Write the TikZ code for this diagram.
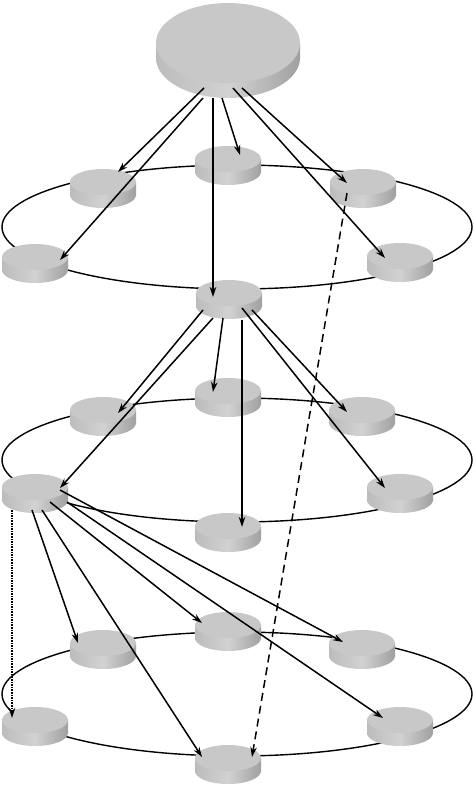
\documentclass[tikz,border=0pt]{standalone}
\usetikzlibrary{arrows.meta,shapes.geometric}
\definecolor{topgray}{HTML}{C8C8C8}
\definecolor{sideL}{HTML}{BCBCBC}
\definecolor{sideM}{HTML}{D2D2D2}
\definecolor{sideR}{HTML}{A0A0A0}
\tikzset{
  pics/disc/.style n args={3}{code={
    \shade[left color=sideL, right color=sideR, middle color=sideM] (-#1,0) rectangle (#1,#3);
    \shade[left color=sideL, right color=sideR, middle color=sideM] (0,#3) ellipse [x radius=#1, y radius=#2];
    \node[ellipse, fill=topgray, minimum width={2*#1}, minimum height={2*#2}, inner sep=0pt] (-t) at (0,0) {};
  }},
  ring/.style={draw, ellipse, line width=1.4pt, minimum width=470, minimum height=124, inner sep=0pt},
  arr/.style={line width=1.5pt, -{Stealth[length=10pt,width=6.5pt]}},
  dotarr/.style={line width=1.6pt, densely dotted, -{Stealth[length=10pt,width=6.5pt]}},
  dasharr/.style={line width=1.5pt, dash pattern=on 8pt off 5pt, -{Stealth[length=10pt,width=6.5pt]}}
}
\begin{document}
\begin{tikzpicture}[x=1pt,y=-1pt]
\useasboundingbox (0,0) rectangle (474,787);
% rings
\node[ring] (ring1) at (237,227) {};
\node[ring] (ring2) at (237,460) {};
\node[ring] (ring3) at (237,694) {};
% discs
\pic (S) at (228,43) {disc={72}{40}{15}};
\pic (T1) at (228,159) {disc={33}{13}{13}};
\pic (UL1) at (103,182) {disc={33}{13}{13}};
\pic (UR1) at (363,182) {disc={33}{13}{13}};
\pic (L1) at (35,257) {disc={33}{13}{13}};
\pic (R1) at (400,256) {disc={33}{13}{13}};
\pic (B1) at (229,293) {disc={33}{13}{13}};
\pic (T2) at (228,391) {disc={33}{13}{13}};
\pic (UL2) at (103,410) {disc={33}{13}{13}};
\pic (UR2) at (362,410) {disc={33}{13}{13}};
\pic (L2) at (35,487) {disc={33}{13}{13}};
\pic (R2) at (400,487) {disc={33}{13}{13}};
\pic (B2) at (228,526) {disc={33}{13}{13}};
\pic (T3) at (228,625) {disc={33}{13}{13}};
\pic (UL3) at (103,643) {disc={33}{13}{13}};
\pic (UR3) at (362,643) {disc={33}{13}{13}};
\pic (L3) at (35,720) {disc={33}{13}{13}};
\pic (R3) at (400,720) {disc={33}{13}{13}};
\pic (B3) at (228,758) {disc={33}{13}{13}};
% level 0 -> level 1
\draw[arr] ([shift={(-24,45)}]S-t.center) -- ([shift={(15,-10)}]UL1-t.center);
\draw[arr] ([shift={(-25,55)}]S-t.center) -- ([shift={(25,3)}]L1-t.center);
\draw[arr] ([shift={(-15,55)}]S-t.center) -- ([shift={(-16,4)}]B1-t.center);
\draw[arr] ([shift={(-6,55)}]S-t.center) -- ([shift={(12,-4)}]T1-t.center);
\draw[arr] ([shift={(14,45)}]S-t.center) -- ([shift={(-16,1)}]UR1-t.center);
\draw[arr] ([shift={(5,45)}]S-t.center) -- ([shift={(-15,2)}]R1-t.center);
% level 1 -> level 2
\draw[arr] ([shift={(-26,17)}]B1-t.center) -- ([shift={(15,3)}]UL2-t.center);
\draw[arr] ([shift={(-16,25)}]B1-t.center) -- ([shift={(25,1)}]L2-t.center);
\draw[arr] ([shift={(-6,25)}]B1-t.center) -- ([shift={(-15,1)}]T2-t.center);
\draw[arr] ([shift={(13,27)}]B1-t.center) -- ([shift={(14,1)}]B2-t.center);
\draw[arr] ([shift={(23,17)}]B1-t.center) -- ([shift={(-15,2)}]UR2-t.center);
\draw[arr] ([shift={(13,15)}]B1-t.center) -- ([shift={(-15,1)}]R2-t.center);
% level 2 -> level 3
\draw[dotarr] ([shift={(-23,23)}]L2-t.center) -- ([shift={(-23,-2)}]L3-t.center);
\draw[arr] ([shift={(-3,23)}]L2-t.center) -- ([shift={(-25,0)}]UL3-t.center);
\draw[arr] ([shift={(7,23)}]L2-t.center) -- ([shift={(-26,-1)}]B3-t.center);
\draw[arr] ([shift={(15,15)}]L2-t.center) -- ([shift={(-26,-2)}]T3-t.center);
\draw[arr] ([shift={(32,15)}]L2-t.center) -- ([shift={(-17,-2)}]R3-t.center);
\draw[arr] ([shift={(25,3)}]L2-t.center) -- ([shift={(-19,-1)}]UR3-t.center);
% dashed
\draw[dasharr] ([shift={(-16,11)}]UR1-t.center) -- ([shift={(24,-1)}]B3-t.center);
\end{tikzpicture}
\end{document}
